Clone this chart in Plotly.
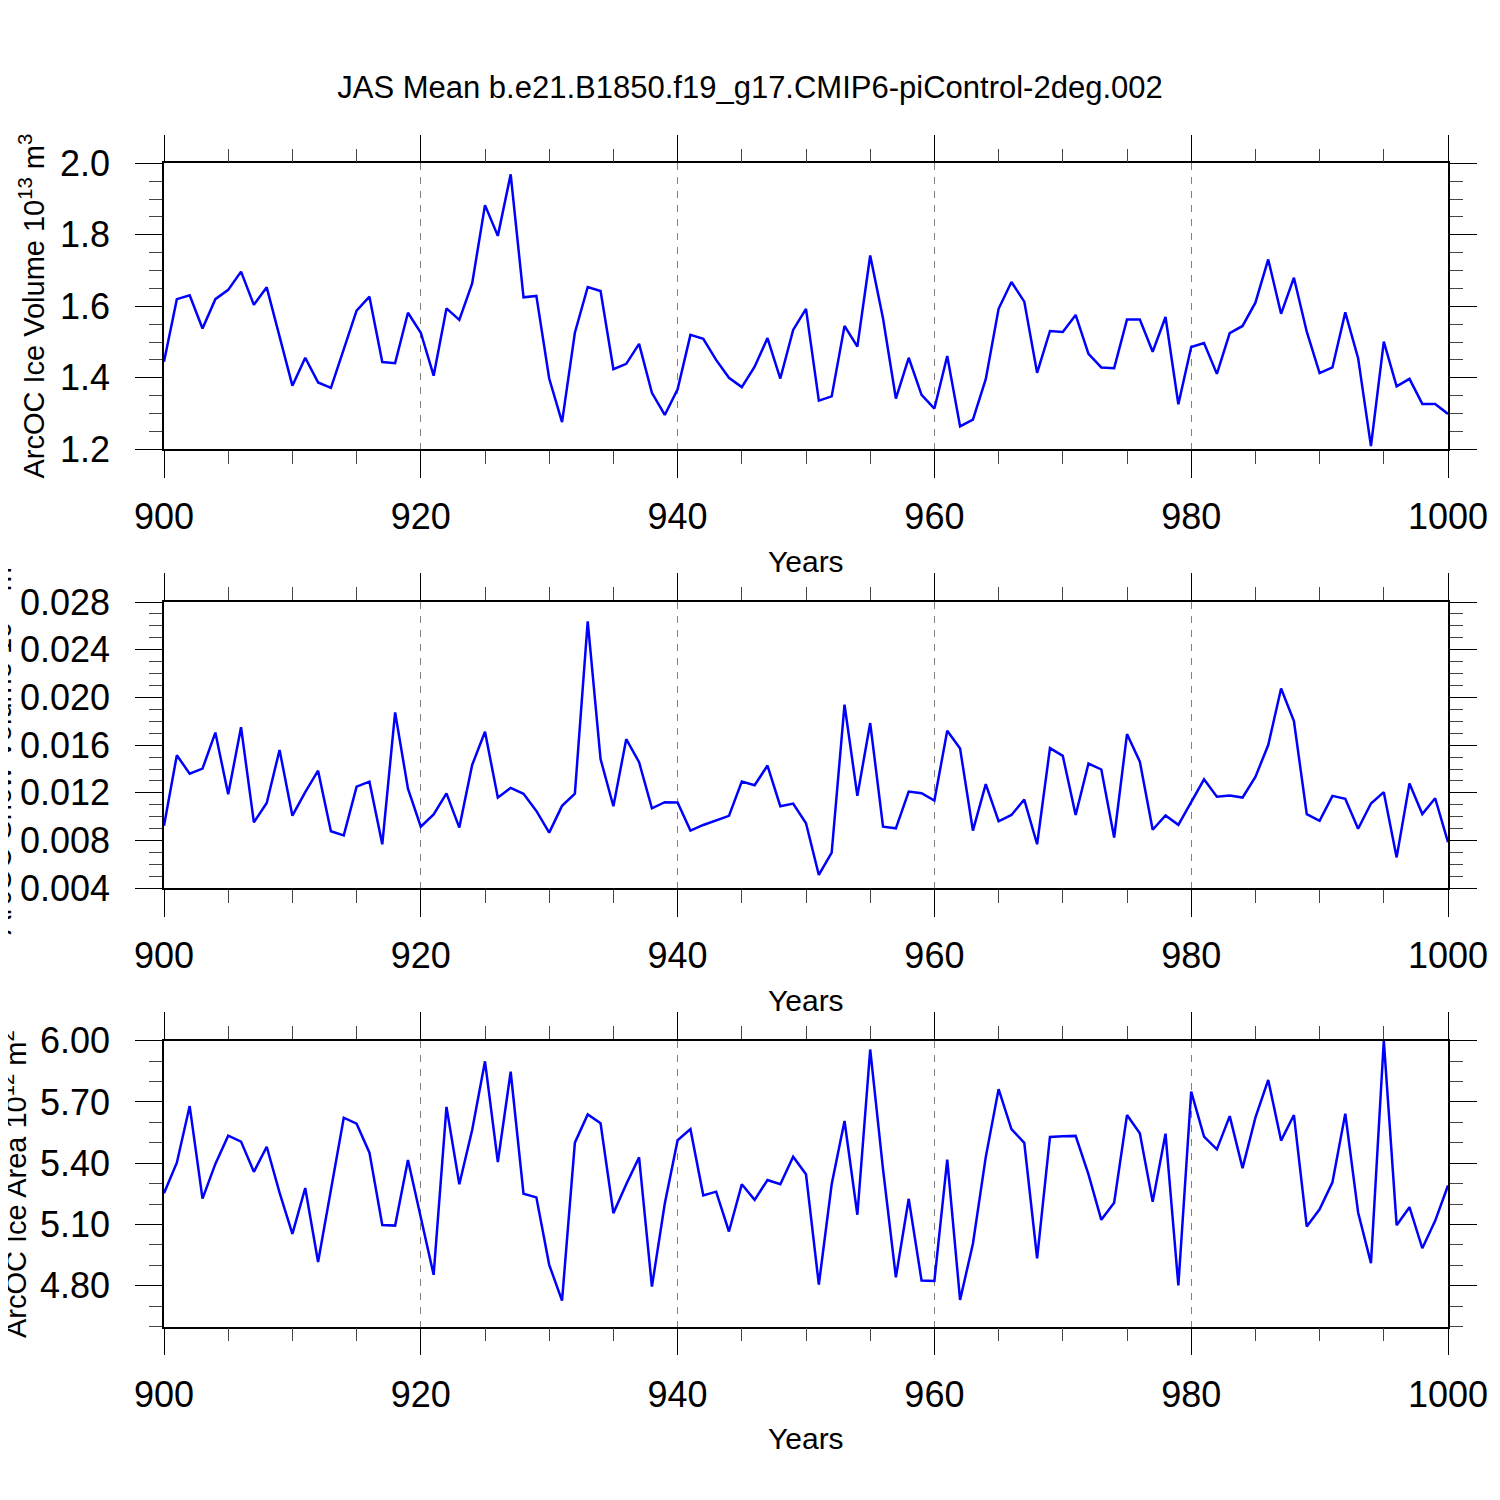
import plotly.graph_objects as go

# data
years = list(range(900, 1001))

ice_volume = [
    1.445, 1.620, 1.631, 1.538, 1.620, 1.646, 1.697, 1.604, 1.653, 1.515,
    1.378, 1.456, 1.387, 1.372, 1.480, 1.588, 1.627, 1.444, 1.441, 1.582,
    1.526, 1.406, 1.594, 1.562, 1.664, 1.883, 1.797, 1.969, 1.625, 1.629,
    1.398, 1.276, 1.526, 1.654, 1.643, 1.424, 1.439, 1.495, 1.358, 1.296,
    1.368, 1.520, 1.509, 1.450, 1.400, 1.374, 1.431, 1.511, 1.398, 1.534,
    1.593, 1.336, 1.348, 1.545, 1.487, 1.742, 1.566, 1.342, 1.456, 1.352,
    1.314, 1.461, 1.264, 1.283, 1.396, 1.593, 1.668, 1.613, 1.414, 1.531,
    1.528, 1.576, 1.467, 1.429, 1.427, 1.563, 1.563, 1.473, 1.570, 1.326,
    1.486, 1.497, 1.411, 1.525, 1.545, 1.610, 1.731, 1.579, 1.680, 1.529,
    1.413, 1.429, 1.583, 1.455, 1.209, 1.501, 1.376, 1.397, 1.327, 1.327,
    1.299,
]

snow_volume = [
    0.00925, 0.01515, 0.01361, 0.01403, 0.01705, 0.01188, 0.01750, 0.00953, 0.01115, 0.01560,
    0.01009, 0.01207, 0.01386, 0.00878, 0.00844, 0.01252, 0.01294, 0.00769, 0.01875, 0.01235,
    0.00917, 0.01020, 0.01196, 0.00909, 0.01434, 0.01712, 0.01160, 0.01242, 0.01192, 0.01049,
    0.00867, 0.01091, 0.01194, 0.02638, 0.01483, 0.01088, 0.01650, 0.01457, 0.01071, 0.01122,
    0.01119, 0.00884, 0.00931, 0.00968, 0.01007, 0.01295, 0.01264, 0.01429, 0.01088, 0.01110,
    0.00945, 0.00512, 0.00699, 0.01939, 0.01175, 0.01785, 0.00917, 0.00903, 0.01211, 0.01197,
    0.01136, 0.01720, 0.01572, 0.00884, 0.01273, 0.00962, 0.01015, 0.01144, 0.00769, 0.01575,
    0.01510, 0.01015, 0.01446, 0.01396, 0.00826, 0.01693, 0.01462, 0.00891, 0.01010, 0.00932,
    0.01122, 0.01314, 0.01167, 0.01178, 0.01161, 0.01334, 0.01601, 0.02075, 0.01802, 0.01022,
    0.00966, 0.01175, 0.01150, 0.00899, 0.01111, 0.01206, 0.00659, 0.01278, 0.01022, 0.01155,
    0.00787,
]

ice_area = [
    5.253, 5.403, 5.680, 5.227, 5.397, 5.535, 5.506, 5.358, 5.481, 5.256,
    5.054, 5.279, 4.917, 5.273, 5.623, 5.594, 5.452, 5.098, 5.095, 5.416,
    5.130, 4.854, 5.676, 5.297, 5.563, 5.899, 5.406, 5.848, 5.251, 5.233,
    4.903, 4.728, 5.501, 5.639, 5.596, 5.156, 5.297, 5.429, 4.796, 5.202,
    5.513, 5.567, 5.243, 5.261, 5.066, 5.297, 5.221, 5.318, 5.297, 5.432,
    5.346, 4.806, 5.297, 5.607, 5.148, 5.957, 5.370, 4.842, 5.226, 4.826,
    4.824, 5.418, 4.731, 5.006, 5.430, 5.763, 5.567, 5.500, 4.935, 5.529,
    5.532, 5.534, 5.346, 5.123, 5.207, 5.636, 5.547, 5.211, 5.545, 4.802,
    5.751, 5.530, 5.468, 5.631, 5.376, 5.623, 5.808, 5.511, 5.636, 5.090,
    5.175, 5.307, 5.643, 5.159, 4.911, 6.000, 5.097, 5.185, 4.984, 5.118,
    5.291,
]

x_ticks = [900, 920, 940, 960, 980, 1000]
vol_ticks = [1.2, 1.4, 1.6, 1.8, 2.0]
snow_ticks = [0.004, 0.008, 0.012, 0.016, 0.020, 0.024, 0.028]
area_ticks = [4.8, 5.1, 5.4, 5.7, 6.0]

title_text = "JAS Mean b.e21.B1850.f19_g17.CMIP6-piControl-2deg.002"
y_titles = ["ArcOC Ice Volume 10<sup>13</sup> m<sup>3</sup>",
            "ArcOC Snow Volume 10<sup>13</sup> m<sup>3</sup>",
            "ArcOC Ice Area 10<sup>12</sup> m<sup>2</sup>"]

FONT = "Liberation Sans, Arial, Helvetica, sans-serif"

# the page body adds 8px around the figure, so page pixels are shifted by OFF
OFF = 8
L, R, T, B = 153, 60, 155, 181
plot_h = 1500 - T - B
plot_w = 1500 - L - R
panels_px = [(163.3, 449.3), (602.0, 888.3), (1040.7, 1326.7)]


def py(px):
    # page pixel row -> paper y
    return 1 - (px - OFF - T) / plot_h


def px_x(px):
    return (px - OFF - L) / plot_w


def axis_style(**kw):
    style = dict(showline=True, linecolor="black", linewidth=1.5, mirror="allticks",
                 ticks="outside", ticklen=27, tickwidth=1.3, tickcolor="black",
                 tickfont=dict(size=36, color="black", family=FONT),
                 showgrid=False, zeroline=False)
    style.update(kw)
    return style


fig = go.Figure()
series = [ice_volume, snow_volume, ice_area]
for i, vals in enumerate(series):
    fig.add_trace(go.Scatter(x=years, y=vals, mode="lines",
                             line=dict(color="#0000ff", width=2.5),
                             xaxis="x" if i == 0 else f"x{i+1}",
                             yaxis="y" if i == 0 else f"y{i+1}",
                             showlegend=False, cliponaxis=False))

y_specs = [
    dict(range=[1.2, 2.0], tickvals=vol_ticks, tickformat=".1f", tick0=1.2, mdt=0.05),
    dict(range=[0.004, 0.028], tickvals=snow_ticks, tickformat=".3f", tick0=0.004, mdt=0.001),
    dict(range=[4.6, 6.0], tickvals=area_ticks, tickformat=".2f", tick0=4.6, mdt=0.1),
]

layout = dict(width=1500, height=1500, plot_bgcolor="white", paper_bgcolor="white",
              margin=dict(l=L, r=R, t=T, b=B),
              font=dict(family=FONT, color="black"),
              title=dict(text=title_text, x=(750 - OFF) / 1500, xref="container",
                         xanchor="center", y=1 - (87 - OFF) / 1500, yanchor="middle",
                         font=dict(size=31, family=FONT, color="black")))

annotations = []
for i, spec in enumerate(y_specs):
    top, bot = panels_px[i]
    dom = [py(bot), py(top)]
    sfx = "" if i == 0 else str(i + 1)
    layout["xaxis" + sfx] = axis_style(
        domain=[0, 1], anchor="y" + sfx, range=[900, 1000], tickvals=x_ticks,
        ticklabelstandoff=8,
        showgrid=True, gridcolor="#808080", gridwidth=1, griddash="7px,7px",
        minor=dict(ticks="outside", ticklen=13, tickwidth=1, tickcolor="#444",
                   tick0=900, dtick=5, showgrid=False))
    layout["yaxis" + sfx] = axis_style(
        domain=dom, anchor="x" + sfx, range=spec["range"], tickvals=spec["tickvals"],
        tickformat=spec["tickformat"], ticklabelstandoff=18,
        minor=dict(ticks="outside", ticklen=13, tickwidth=1, tickcolor="#444",
                   tick0=spec["tick0"], dtick=spec["mdt"], showgrid=False))
    # Years label under each panel
    annotations.append(dict(text="Years", xref="paper", yref="paper", x=px_x(804),
                            y=py(bot + 112), xanchor="center", yanchor="middle",
                            showarrow=False, font=dict(size=30, family=FONT, color="black")))

# the snow panel title sits mostly off the left edge, as in the original figure
y_title_x = [29, -4, 10]
for i, txt in enumerate(y_titles):
    top, bot = panels_px[i]
    annotations.append(dict(text=txt, xref="paper", yref="paper", x=px_x(y_title_x[i]),
                            y=py((top + bot) / 2), xanchor="center", yanchor="middle",
                            textangle=-90, showarrow=False,
                            font=dict(size=29, family=FONT, color="black")))

layout["annotations"] = annotations
fig.update_layout(layout)

fig.write_html("out.html")
